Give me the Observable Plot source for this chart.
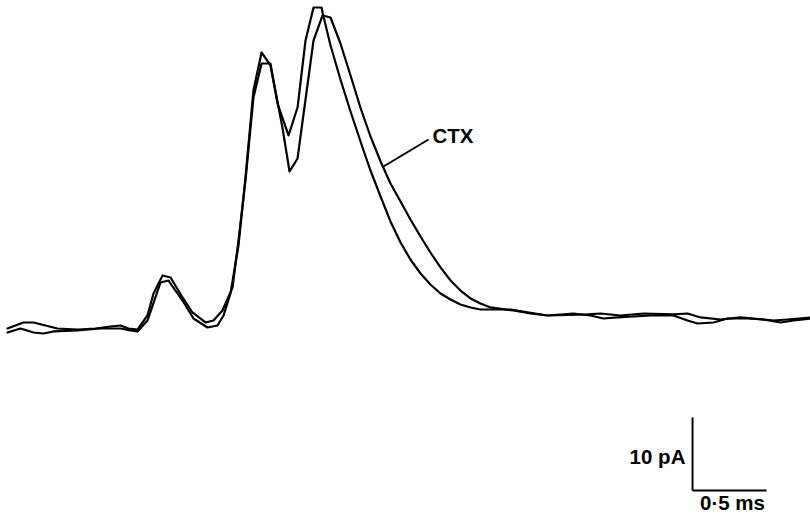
<!DOCTYPE html>
<html>
<head>
<meta charset="utf-8">
<script src="https://cdn.jsdelivr.net/npm/d3@7"></script>
<script src="https://cdn.jsdelivr.net/npm/@observablehq/plot@0.6"></script>
<style>
  html, body { margin: 0; padding: 0; background: #fff; }
  #chart svg { display: block; }
</style>
</head>
<body>
<div id="chart"></div>
<script>
// Control trace (narrower decay): time (ms), current (pA)
const ctrlTime = [0.047,0.101,0.155,0.223,0.304,0.385,0.520,0.642,0.743,0.811,0.865,0.926,0.993,1.034,1.095,1.149,1.230,1.297,1.385,1.439,1.500,1.568,1.608,1.655,1.709,1.764,1.824,1.872,1.946,2.007,2.061,2.115,2.169,2.176,2.230,2.297,2.365,2.453,2.500,2.568,2.635,2.703,2.770,2.838,2.905,2.973,3.041,3.108,3.176,3.243,3.446,3.696,3.966,4.054,4.189,4.345,4.547,4.642,4.730,4.865,5.000,5.088,5.223,5.318,5.473];
const ctrlCurrent = [-0.41,0,0.41,0.41,0,-0.41,-0.55,-0.41,-0.14,0,-0.41,-0.55,1.37,4.38,6.85,6.58,3.84,1.78,0.41,0.68,2.05,5.21,11.64,19.86,31.23,35.89,35.89,30.41,26.03,29.86,39.04,43.56,43.56,42.88,38.36,33.70,29.32,23.97,21.23,17.67,14.25,11.37,9.04,7.12,5.62,4.38,3.56,2.88,2.47,2.19,2.19,1.37,1.51,1.64,1.37,1.64,1.51,1.64,1.10,0.82,1.10,0.96,0.68,0.82,1.10];

// CTX trace (broader decay)
const ctxTime = [0.047,0.135,0.223,0.291,0.358,0.520,0.676,0.811,0.878,0.926,0.993,1.081,1.135,1.230,1.304,1.399,1.466,1.507,1.554,1.608,1.655,1.709,1.764,1.824,1.905,1.953,2.007,2.115,2.176,2.230,2.297,2.365,2.432,2.500,2.568,2.635,2.703,2.770,2.838,2.905,2.973,3.041,3.108,3.176,3.243,3.311,3.466,3.581,3.696,3.872,3.986,4.074,4.169,4.392,4.547,4.642,4.709,4.818,4.912,5.047,5.155,5.270,5.358,5.473];
const ctxCurrent = [-0.96,-0.41,-0.96,-1.10,-0.82,-0.68,-0.41,-0.41,-0.68,-0.82,0.68,5.89,6.16,3.42,0.96,-0.27,0,1.37,4.38,10.96,20.14,32.19,37.40,35.62,27.12,21.10,22.88,39.04,42.47,42.19,38.63,34.25,29.86,25.89,22.47,19.45,16.99,14.52,12.19,10.00,7.95,6.16,4.79,3.70,3.01,2.47,2.05,1.64,1.37,1.64,1.37,0.96,1.10,1.37,1.37,0.68,0.27,0.41,0.96,0.96,0.82,0.41,0.68,0.96];

// Scale bar: corner (ms, pA) and lengths
const scaleCorner = [4.676, -22.6];
const scaleTimeLen = 0.5;   // ms
const scaleCurrLen = 10;    // pA
const scaleLabels = ["10 pA", "0\u00B75 ms"];

// CTX annotation: label and leader line end points (ms, pA)
const ctxLabel = "CTX";
const leaderTime = [2.588, 2.892];
const leaderCurrent = [21.78, 25.48];

const traces = [
  ...ctrlTime.map((t, i) => ({trace: "control", t, i: ctrlCurrent[i]})),
  ...ctxTime.map((t, i) => ({trace: "CTX", t, i: ctxCurrent[i]}))
];

const [cx, cy] = scaleCorner;
const bars = [
  {x1: cx, y1: cy, x2: cx, y2: cy + scaleCurrLen},
  {x1: cx, y1: cy, x2: cx + scaleTimeLen, y2: cy}
];

const font = "'Liberation Sans', Arial, Helvetica, sans-serif";

const chart = Plot.plot({
  width: 810,
  height: 515,
  marginTop: 0, marginBottom: 0, marginLeft: 0, marginRight: 0,
  x: {domain: [0, 5.473], axis: null},
  y: {domain: [-26.03, 44.52], axis: null},
  style: {background: "#fff"},
  marks: [
    Plot.line(traces, {x: "t", y: "i", z: "trace", stroke: "#000", strokeWidth: 2.2,
      curve: "linear", strokeLinejoin: "round"}),
    Plot.link(bars, {x1: "x1", y1: "y1", x2: "x2", y2: "y2", stroke: "#000", strokeWidth: 2}),
    Plot.link([{x1: leaderTime[0], y1: leaderCurrent[0], x2: leaderTime[1], y2: leaderCurrent[1]}],
      {x1: "x1", y1: "y1", x2: "x2", y2: "y2", stroke: "#000", strokeWidth: 2}),
    Plot.text([scaleLabels[0]], {x: cx - 0.048, y: cy + 4.52, text: d => d, textAnchor: "end",
      fontSize: 20.5, fontWeight: "bold", fontFamily: font, fill: "#000"}),
    Plot.text([scaleLabels[1]], {x: cx + scaleTimeLen * 0.54, y: cy - 1.78, text: d => d, textAnchor: "middle",
      fontSize: 20.5, fontWeight: "bold", fontFamily: font, fill: "#000"}),
    Plot.text([ctxLabel], {x: leaderTime[1] + 0.027, y: leaderCurrent[1] + 0.41, text: d => d, textAnchor: "start",
      fontSize: 20.5, fontWeight: "bold", fontFamily: font, fill: "#000"})
  ]
});
document.getElementById("chart").appendChild(chart);
</script>
</body>
</html>
